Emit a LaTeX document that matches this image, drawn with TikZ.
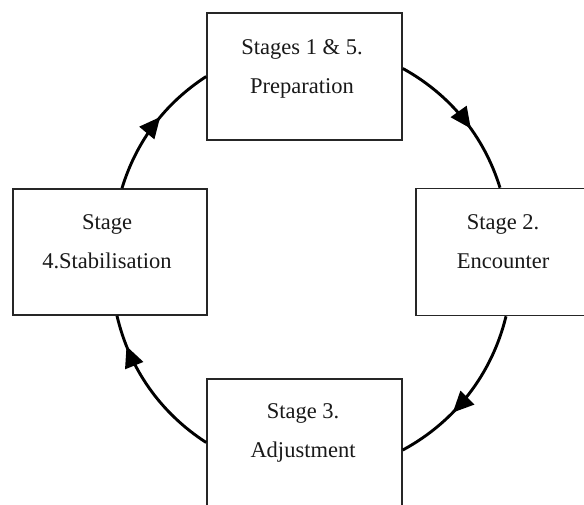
\documentclass[tikz,border=0pt]{standalone}
\usepackage{fontspec}
\setmainfont{Liberation Serif}
\usetikzlibrary{arrows.meta,decorations.markings}

\begin{document}
\begin{tikzpicture}[x=1pt,y=1pt,
  stagebox/.style={draw=black!85, line width=1.6pt, fill=white, rectangle,
    minimum width=195pt, minimum height=127pt, inner sep=0pt},
  stagetext/.style={align=center, text=black!90, inner sep=0pt,
    font=\fontsize{22.5}{39}\selectfont},
  cycle/.style={line width=2.9pt, looseness=0.9,
    decoration={markings, mark=at position #1 with
      {\arrow{Triangle[length=21pt,width=19pt]}}},
    postaction={decorate}},
  cycle/.default=0.55]

\useasboundingbox (0,0) rectangle (584,504);
\clip (0,0) rectangle (584,504);
\fill[white] (0,0) rectangle (584,504);

% the four stage boxes (right and bottom ones run past the page edge)
\node[stagebox] (prep) at (304.5,427.5) {};
\node[stagebox, minimum width=174pt] (enc) at (503,252) {};
\node[stagebox] (adj) at (304.5,61.5) {};
\node[stagebox, minimum width=194pt, minimum height=126pt] (stab) at (110,252) {};

% box texts
\node[stagetext] (prepT) at (302,435) {Stages 1 \& 5.\\Preparation};
\node[stagetext] (encT) at (503,262) {Stage 2.\\Encounter};
\node[stagetext] (adjT) at (303,71) {Stage 3.\\Adjustment};
\node[stagetext] (stabT) at (107,262) {Stage\\4.Stabilisation};

% clockwise cycle between the stages
\draw[cycle=0.58] ([yshift=8pt]prep.east) to[bend left=22] ([xshift=-3pt]enc.north);
\draw[cycle=0.64] ([xshift=3pt]enc.south) to[bend left=24] ([yshift=-7.5pt]adj.east);
\draw[cycle=0.8] (adj.west) to[bend left=22] ([xshift=7pt]stab.south);
\draw[cycle=0.57] ([xshift=12pt]stab.north) to[bend left=20] (prep.west);
\end{tikzpicture}
\end{document}
